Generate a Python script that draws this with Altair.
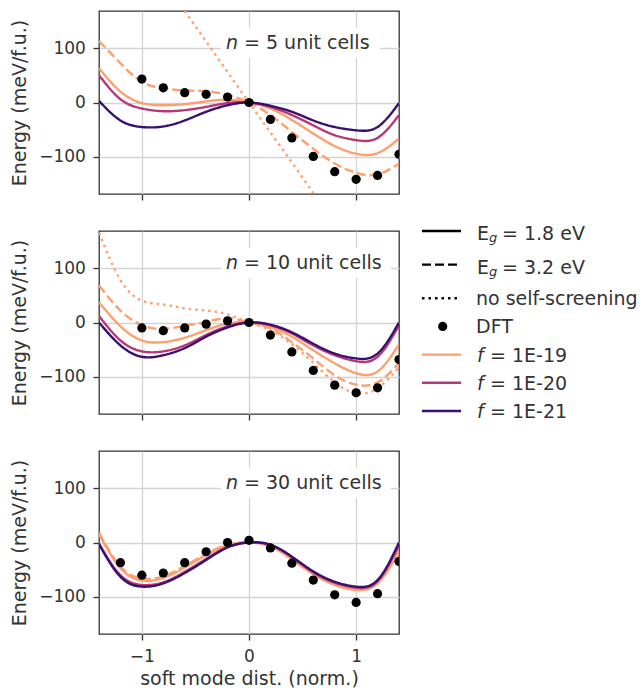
import altair as alt
import pandas as pd

# Sampling grid of the soft-mode coordinate used for every model curve
X_GRID = [-1.4, -1.2, -1.0, -0.8, -0.6, -0.4, -0.2, 0.0, 0.2, 0.4, 0.6, 0.8, 1.0, 1.2, 1.4]

# n = 5 unit cells (meV/f.u.)
N5_EG18_F19 = [63, 20, -1, -5, -3, 2, 5, 0, -11, -32, -57, -80, -94, -93, -66]
N5_EG18_F20 = [50, 6, -11, -16, -14, -8, -1, 0, -8, -23, -42, -60, -69, -65, -23]
N5_EG18_F21 = [3, -33, -45, -44, -33, -17, -5, 0, -6, -17, -33, -45, -51, -45, -1]
N5_EG32_F19 = [113, 72, 38, 26, 22, 21, 14, 0, -23, -54, -85, -112, -129, -132, -112]
N5_NOSCR_X = [-0.6, -0.4, -0.2, 0.0, 0.2, 0.4, 0.6]
N5_NOSCR = [168, 112, 56, 0, -55, -110, -166]
DFT_X_N5 = [-1.0, -0.8, -0.6, -0.4, -0.2, 0.0, 0.2, 0.4, 0.6, 0.8, 1.0, 1.2, 1.4]
DFT_N5 = [43, 27, 18, 15, 10, 0, -31, -65, -99, -127, -141, -134, -95]

# n = 10 unit cells
N10_EG18_F19 = [37, -7, -33, -36, -28, -14, -2, 0, -8, -26, -51, -75, -93, -90, -40]
N10_EG18_F20 = [12, -33, -53, -53, -42, -23, -7, 0, -5, -20, -42, -60, -71, -63, -5]
N10_EG18_F21 = [0, -42, -63, -60, -47, -26, -9, 0, -4, -18, -39, -57, -66, -57, 0]
N10_EG32_F19 = [68, 22, -5, -12, -6, 1, 8, 0, -11, -36, -66, -97, -114, -110, -75]
N10_NOSCR = [165, 78, 40, 33, 26, 22, 15, 0, -14, -40, -74, -110, -130, -121, -82]
DFT_X_N10 = [-1.0, -0.8, -0.6, -0.4, -0.2, 0.0, 0.2, 0.4, 0.6, 0.8, 1.0, 1.2, 1.4]
DFT_N10 = [-10, -15, -10, -3, 3, 0, -23, -54, -88, -115, -129, -120, -68]

# n = 30 unit cells
N30_EG18_F19 = [15, -47, -70, -65, -46, -23, -5, 0, -7, -31, -58, -78, -87, -75, -17]
N30_EG18_F20 = [-2, -60, -78, -73, -54, -30, -8, 0, -5, -27, -55, -74, -83, -71, -5]
N30_EG18_F21 = [-3, -63, -81, -75, -56, -32, -9, 0, -4, -26, -53, -72, -81, -69, 0]
N30_EG32_F19 = [18, -44, -66, -62, -43, -21, -4, 0, -6, -29, -56, -76, -85, -73, -14]
DFT_X_N30 = [-1.2, -1.0, -0.8, -0.6, -0.4, -0.2, 0.0, 0.2, 0.4, 0.6, 0.8, 1.0, 1.2, 1.4]
DFT_N30 = [-37, -60, -56, -37, -17, 0, 4, -10, -38, -69, -96, -110, -94, -35]

# Legend entries
LEGEND_PREFIX = ["E", "E", "", "", "f", "f", "f"]
LEGEND_TEXT = ["= 1.8 eV", "= 3.2 eV", "no self-screening", "DFT", "= 1E-19", "= 1E-20", "= 1E-21"]
LEGEND_SYMBOL = ["solid", "dashed", "dotted", "dot", "solid", "solid", "solid"]

C19 = "#fe9f6d"
C20 = "#b73779"
C21 = "#3b0f70"
LEGEND_COLOR = ["black", "black", "black", "black", C19, C20, C21]

FONT = "DejaVu Sans"
TEXT_COLOR = "#333333"
TXT = 19      # legend, annotation and axis-title size
TICK_TXT = 17  # tick-label size
DASHES = {"solid": [1, 0], "dashed": [9, 4], "dotted": [2.5, 4]}

W, H = 300, 183
XS = alt.Scale(domain=[-1.4, 1.4], nice=False, zero=False)
YS = alt.Scale(domain=[-168, 168], nice=False, zero=False)


def curve(xs, ys, color, style, x_axis, y_axis):
    df = pd.DataFrame({"x": xs, "E": ys})
    return alt.Chart(df).mark_line(
        interpolate="natural", clip=True, strokeWidth=2.4, color=color,
        strokeDash=DASHES[style],
    ).encode(
        x=alt.X("x:Q", scale=XS, axis=x_axis),
        y=alt.Y("E:Q", scale=YS, axis=y_axis),
    )


def panel(n_label, box_right, curves, dft_x, dft_e, bottom):
    if bottom:
        x_axis = alt.Axis(values=[-1, 0, 1], format="d", title="soft mode dist. (norm.)")
    else:
        x_axis = alt.Axis(values=[-1, 0, 1], labels=False, title=None)
    y_axis = alt.Axis(values=[-100, 0, 100], format="d", title="Energy (meV/f.u.)")

    one = pd.DataFrame({"k": [0]})
    box = alt.Chart(one).mark_rect(color="white").encode(
        x=alt.value(122), x2=alt.value(box_right), y=alt.value(17), y2=alt.value(47)
    )
    layers = [box]
    for xs, ys, color, style in curves:
        layers.append(curve(xs, ys, color, style, x_axis, y_axis))

    dft = pd.DataFrame({"x": dft_x, "E": dft_e})
    layers.append(
        alt.Chart(dft).mark_circle(size=85, color="black", opacity=1, clip=True).encode(
            x=alt.X("x:Q", scale=XS, axis=x_axis),
            y=alt.Y("E:Q", scale=YS, axis=y_axis),
        )
    )
    layers.append(
        alt.Chart(one).mark_text(
            text="n", font=FONT, fontSize=TXT, fontStyle="italic", color=TEXT_COLOR,
            align="left", baseline="alphabetic",
        ).encode(x=alt.value(127), y=alt.value(38))
    )
    layers.append(
        alt.Chart(one).mark_text(
            text=n_label, font=FONT, fontSize=TXT, color=TEXT_COLOR,
            align="left", baseline="alphabetic",
        ).encode(x=alt.value(145), y=alt.value(38))
    )
    return alt.layer(*layers).properties(width=W, height=H)


p5 = panel("= 5 unit cells", 281, [
    (N5_NOSCR_X, N5_NOSCR, C19, "dotted"),
    (X_GRID, N5_EG32_F19, C19, "dashed"),
    (X_GRID, N5_EG18_F19, C19, "solid"),
    (X_GRID, N5_EG18_F20, C20, "solid"),
    (X_GRID, N5_EG18_F21, C21, "solid"),
], DFT_X_N5, DFT_N5, False)

p10 = panel("= 10 unit cells", 292, [
    (X_GRID, N10_NOSCR, C19, "dotted"),
    (X_GRID, N10_EG32_F19, C19, "dashed"),
    (X_GRID, N10_EG18_F19, C19, "solid"),
    (X_GRID, N10_EG18_F20, C20, "solid"),
    (X_GRID, N10_EG18_F21, C21, "solid"),
], DFT_X_N10, DFT_N10, False)

p30 = panel("= 30 unit cells", 292, [
    (X_GRID, N30_EG32_F19, C19, "dashed"),
    (X_GRID, N30_EG18_F19, C19, "solid"),
    (X_GRID, N30_EG18_F20, C20, "solid"),
    (X_GRID, N30_EG18_F21, C21, "solid"),
], DFT_X_N30, DFT_N30, True)

panels = alt.vconcat(p5, p10, p30, spacing=28)

# Legend drawn as its own small chart beside the panels; the first three rows
# (with subscripted labels) sit a little further apart than the rest.
leg = pd.DataFrame({
    "row": list(range(len(LEGEND_TEXT))),
    "prefix": LEGEND_PREFIX,
    "label": LEGEND_TEXT,
    "sym": LEGEND_SYMBOL,
    "color": LEGEND_COLOR,
})
leg_base = alt.Chart(leg).transform_calculate(
    ly="datum.row <= 2 ? 220 + 33.6 * datum.row : 287.2 + 28.2 * (datum.row - 2)",
).transform_calculate(
    ty="datum.ly + (datum.row <= 1 ? 9.3 : 7)",
    tx="datum.prefix == 'E' ? 81 : (datum.prefix == 'f' ? 69 : 55)",
).transform_calculate(
    sy="datum.ty + 2",
)


def ypix(field):
    return alt.Y(field, scale=None, axis=None)


leg_lines = leg_base.mark_rule(strokeWidth=2.4).encode(
    x=alt.value(1), x2=alt.value(40), y=ypix("ly:Q"),
    color=alt.Color("color:N", scale=None),
    strokeDash=alt.StrokeDash(
        "sym:N",
        scale=alt.Scale(domain=list(DASHES.keys()), range=list(DASHES.values())),
        legend=None,
    ),
).transform_filter("datum.sym != 'dot'")
leg_dot = leg_base.mark_circle(size=85, color="black", opacity=1).encode(
    x=alt.value(21.7), y=ypix("ly:Q")
).transform_filter("datum.sym == 'dot'")
leg_text = leg_base.mark_text(
    font=FONT, fontSize=TXT, color=TEXT_COLOR, align="left", baseline="alphabetic"
).encode(x=alt.X("tx:Q", scale=None, axis=None), y=ypix("ty:Q"), text="label:N")
leg_e = leg_base.mark_text(
    font=FONT, fontSize=TXT, color=TEXT_COLOR, align="left", baseline="alphabetic"
).encode(x=alt.value(56), y=ypix("ty:Q"), text="prefix:N").transform_filter(
    "datum.prefix == 'E'"
)
leg_f = leg_base.mark_text(
    font=FONT, fontSize=TXT, fontStyle="italic", color=TEXT_COLOR, align="left",
    baseline="alphabetic",
).encode(x=alt.value(56), y=ypix("ty:Q"), text="prefix:N").transform_filter(
    "datum.prefix == 'f'"
)
leg_sub = leg_base.mark_text(
    text="g", font=FONT, fontSize=13, fontStyle="italic", color=TEXT_COLOR,
    align="left", baseline="alphabetic",
).encode(x=alt.value(68), y=ypix("sy:Q")).transform_filter("datum.prefix == 'E'")

legend = alt.layer(leg_lines, leg_dot, leg_text, leg_e, leg_f, leg_sub).properties(
    width=215, height=420, view=alt.ViewBackground(stroke="transparent")
)

chart = alt.hconcat(panels, legend, spacing=20).properties(
    padding={"left": 10, "top": 10, "right": 0, "bottom": 0}
).configure(font=FONT).configure_axis(
    labelFont=FONT, titleFont=FONT, labelFontSize=TICK_TXT, titleFontSize=TXT,
    labelColor=TEXT_COLOR, titleColor=TEXT_COLOR, titleFontWeight="normal",
    tickColor="#333333", tickSize=6, tickWidth=1.3, domain=False,
    gridColor="#d4d4d4", gridWidth=1.3,
).configure_axisX(labelPadding=8, titlePadding=5).configure_axisY(
    labelPadding=7.6, titlePadding=9
).configure_view(stroke="#333333", strokeWidth=1.3)

chart.save("out.html", embed_options={"renderer": "svg", "actions": False})
